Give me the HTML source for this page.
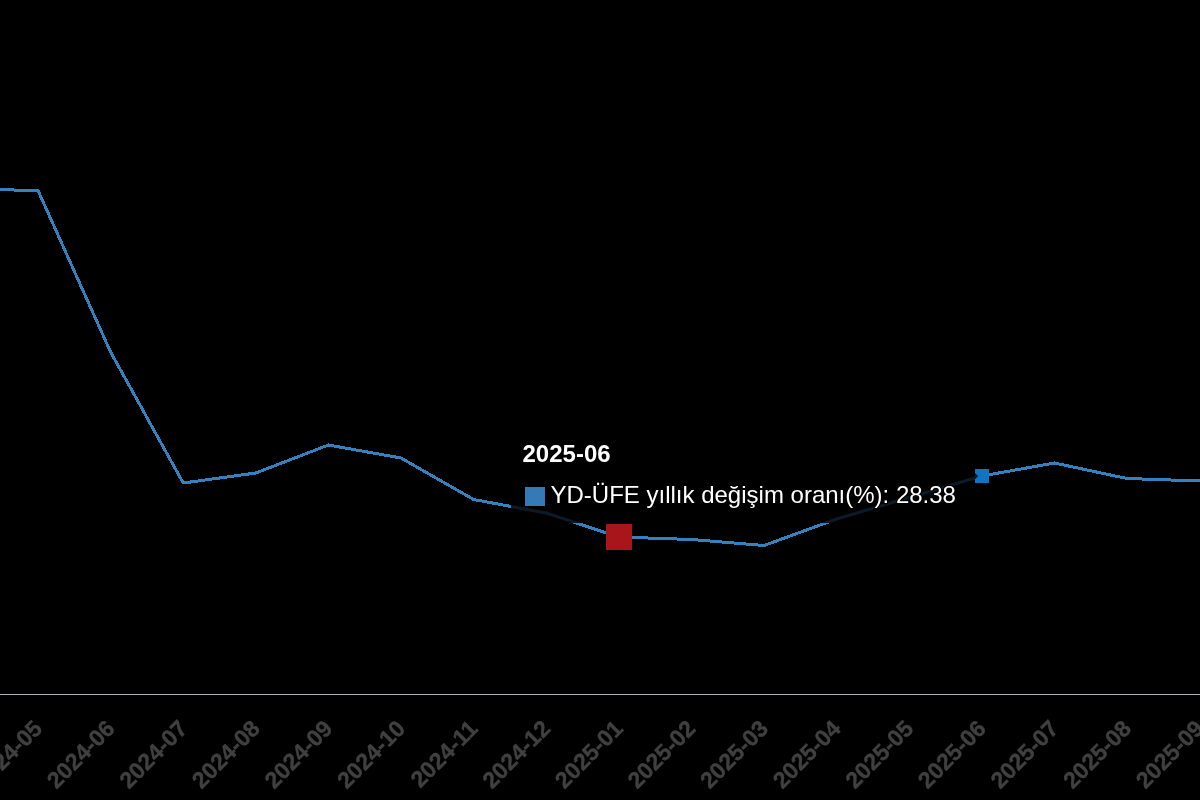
<!DOCTYPE html>
<html><head><meta charset="utf-8"><style>
html,body{margin:0;padding:0;background:#000;width:1200px;height:800px;overflow:hidden}
svg{display:block;will-change:transform}
.lbl text{font-family:"Liberation Sans",sans-serif;font-weight:bold;font-size:23px;fill:#404040;stroke:#404040;stroke-width:0.4px;stroke-linejoin:round;text-anchor:end}
.tt{font-family:"Liberation Sans",sans-serif;fill:#fff;font-size:24px;stroke:#000;stroke-width:2.5px;stroke-linejoin:round;paint-order:stroke}
</style></head><body>
<svg width="1200" height="800" viewBox="0 0 1200 800">
<defs>
<clipPath id="out"><path clip-rule="evenodd" d="M-100 -100 H1300 V900 H-100 Z M511 420 H972 V470 L978 476 L972 482 V523 H511 Z"/></clipPath>
<clipPath id="in"><path d="M511 420 H972 V470 L978 476 L972 482 V523 H511 Z"/></clipPath>
</defs>
<rect x="0" y="694" width="1200" height="1" fill="#adb5bd"/>
<g clip-path="url(#out)"><path d="M-34.6 189.0 L38.0 190.5 L110.6 352.0 L183.2 483.0 L255.8 473.0 L328.4 445.0 L401.0 458.0 L473.6 499.5 L546.2 513.0 L618.8 537.0 L691.4 539.5 L764.0 545.5 L836.6 519.0 L909.2 497.5 L981.8 476.0 L1054.4 463.0 L1127.0 478.5 L1199.6 481.0 L1272.2 481.0" fill="none" stroke="#3481c0" stroke-width="3" stroke-linejoin="round" shape-rendering="crispEdges"/></g>
<rect x="975" y="469" width="14" height="14" fill="#0f75c0"/>
<path d="M511 420 H972 V470 L978 476 L972 482 V523 H511 Z" fill="#000" fill-opacity="0.79"/>
<g clip-path="url(#in)"><path d="M-34.6 189.0 L38.0 190.5 L110.6 352.0 L183.2 483.0 L255.8 473.0 L328.4 445.0 L401.0 458.0 L473.6 499.5 L546.2 513.0 L618.8 537.0 L691.4 539.5 L764.0 545.5 L836.6 519.0 L909.2 497.5 L981.8 476.0 L1054.4 463.0 L1127.0 478.5 L1199.6 481.0 L1272.2 481.0" fill="none" stroke="#0c1a28" stroke-width="3" stroke-linejoin="round"/></g>
<rect x="606" y="524" width="26" height="26" fill="#a8151b"/>
<text class="tt" x="522.5" y="462" font-weight="bold">2025-06</text>
<rect x="525" y="487" width="20" height="19" fill="#337ab7"/>
<text class="tt" x="550.5" y="503">YD-ÜFE yıllık değişim oranı(%): 28.38</text>
<g class="lbl">
<text x="43.5" y="730" transform="rotate(-45 43.5 730)">2024-05</text>
<text x="116.1" y="730" transform="rotate(-45 116.1 730)">2024-06</text>
<text x="188.7" y="730" transform="rotate(-45 188.7 730)">2024-07</text>
<text x="261.3" y="730" transform="rotate(-45 261.3 730)">2024-08</text>
<text x="333.9" y="730" transform="rotate(-45 333.9 730)">2024-09</text>
<text x="406.5" y="730" transform="rotate(-45 406.5 730)">2024-10</text>
<text x="479.1" y="730" transform="rotate(-45 479.1 730)">2024-11</text>
<text x="551.7" y="730" transform="rotate(-45 551.7 730)">2024-12</text>
<text x="624.3" y="730" transform="rotate(-45 624.3 730)">2025-01</text>
<text x="696.9" y="730" transform="rotate(-45 696.9 730)">2025-02</text>
<text x="769.5" y="730" transform="rotate(-45 769.5 730)">2025-03</text>
<text x="842.1" y="730" transform="rotate(-45 842.1 730)">2025-04</text>
<text x="914.7" y="730" transform="rotate(-45 914.7 730)">2025-05</text>
<text x="987.3" y="730" transform="rotate(-45 987.3 730)">2025-06</text>
<text x="1059.9" y="730" transform="rotate(-45 1059.9 730)">2025-07</text>
<text x="1132.5" y="730" transform="rotate(-45 1132.5 730)">2025-08</text>
<text x="1205.1" y="730" transform="rotate(-45 1205.1 730)">2025-09</text>
</g>
</svg>
</body></html>
